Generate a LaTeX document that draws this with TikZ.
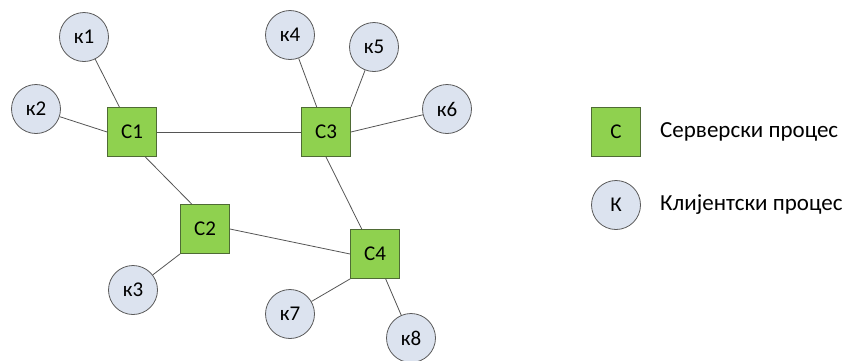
\documentclass[tikz,border=0pt]{standalone}
\usepackage{fontspec}
\setmainfont{Carlito}
\definecolor{srvfill}{HTML}{8FD14F}
\definecolor{srvline}{HTML}{4F6B35}
\definecolor{clifill}{HTML}{DCE3EF}
\definecolor{cliline}{HTML}{5A5A5A}
\definecolor{link}{HTML}{555555}
\tikzset{
  srv/.style={rectangle, draw=srvline, fill=srvfill, line width=0.8pt,
    minimum size=49pt, inner sep=0pt, font=\fontsize{21}{25}\selectfont},
  cli/.style={circle, draw=cliline, fill=clifill, line width=0.8pt,
    minimum size=49pt, inner sep=0pt, font=\fontsize{21}{25}\selectfont},
  link/.style={draw=link, line width=0.8pt},
  legtext/.style={anchor=west, inner sep=0pt, font=\fontsize{23}{27}\selectfont}
}
\begin{document}
\begin{tikzpicture}[x=1pt, y=-1pt]
\useasboundingbox (0,0) rectangle (843,360);

% server processes
\node[srv] (C1) at (132,132) {С1};
\node[srv] (C2) at (205,229) {С2};
\node[srv] (C3) at (326,132) {С3};
\node[srv] (C4) at (375,254) {С4};

% client processes
\node[cli] (k1) at (84,37)   {к1};
\node[cli] (k2) at (36,109)  {к2};
\node[cli] (k3) at (133,290) {к3};
\node[cli] (k4) at (290,35)  {к4};
\node[cli] (k5) at (374,47)  {к5};
\node[cli] (k6) at (447,109) {к6};
\node[cli] (k7) at (290,314) {к7};
\node[cli] (k8) at (411,338) {к8};

% links
\draw[link] (k1) -- (C1);
\draw[link] (k2) -- (C1.west);
\draw[link] (C1) -- (C3);
\draw[link] (C1.-62) -- (C2.118);
\draw[link] (C2.east) -- (C4.west);
\draw[link] (C2.south west) -- (k3);
\draw[link] (C3.south) -- (C4.118);
\draw[link] (k4) -- (C3);
\draw[link] (C3.north east) -- (k5);
\draw[link] (C3.east) -- (k6);
\draw[link] (C4.south west) -- (k7);
\draw[link] (C4) -- (k8);

% legend
\node[srv] (LS) at (616,132) {С};
\node[cli] (LK) at (616,205) {К};
\node[legtext] (LSt) at (660,132) {Серверски процес};
\node[legtext] (LKt) at (660,205) {Клијентски процес};
\end{tikzpicture}
\end{document}
